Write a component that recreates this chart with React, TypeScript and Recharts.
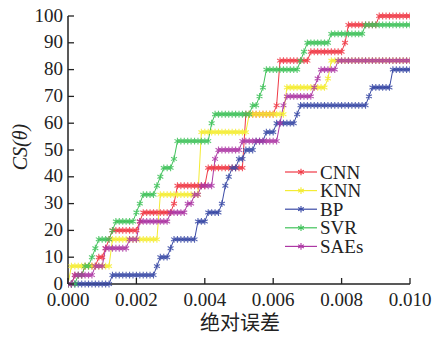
import React from 'react';
import { LineChart, Line, XAxis, YAxis, Legend, Label } from 'recharts';

// Sample grid of absolute error (x axis), evaluated every 0.0001
const gridSteps = 100;
const gridStep = 0.0001;
const xTicks = [0, 0.002, 0.004, 0.006, 0.008, 0.01];
const yTicks = [0, 10, 20, 30, 40, 50, 60, 70, 80, 90, 100];

const seriesNames = ['CNN', 'KNN', 'BP', 'SVR', 'SAEs'];

// Absolute errors of the 30 test samples of each model
const errCNN = [
  0.0002, 0.0005, 0.0009, 0.0011, 0.0012, 0.0013, 0.0021, 0.0022, 0.0031, 0.0032,
  0.0032, 0.0041, 0.0041, 0.0052, 0.0052, 0.0052, 0.0052, 0.0052, 0.0052, 0.0061,
  0.0062, 0.0062, 0.0062, 0.0062, 0.0062, 0.0071, 0.0081, 0.0082, 0.0082, 0.0091,
];
const errKNN = [
  0.0001, 0.0001, 0.0013, 0.0013, 0.0013, 0.0027, 0.0027, 0.0027, 0.0027, 0.0027,
  0.0039, 0.0039, 0.0039, 0.0039, 0.0039, 0.0039, 0.0039, 0.0053, 0.0053, 0.0064,
  0.0064, 0.0064, 0.0076, 0.0077, 0.0077, 0.0104, 0.0108, 0.0112, 0.0118, 0.0125,
];
const errBP = [
  0.0013, 0.0026, 0.0027, 0.003, 0.0031, 0.0038, 0.0038, 0.0041, 0.0045, 0.0046,
  0.0046, 0.0047, 0.0048, 0.005, 0.0052, 0.0055, 0.0058, 0.0061, 0.0067, 0.0068,
  0.0088, 0.0089, 0.0095, 0.0095, 0.0103, 0.0107, 0.0112, 0.0118, 0.0124, 0.0131,
];
const errSVR = [
  0.0003, 0.0005, 0.0007, 0.0008, 0.0009, 0.0013, 0.0014, 0.002, 0.0021, 0.0022,
  0.0026, 0.0027, 0.0028, 0.0031, 0.0032, 0.0032, 0.0042, 0.0042, 0.0043, 0.0054,
  0.0056, 0.0057, 0.0058, 0.0058, 0.0068, 0.0069, 0.007, 0.0077, 0.0087, 0.0106,
];
const errSAEs = [
  0.0002, 0.0008, 0.0011, 0.0011, 0.0018, 0.0021, 0.0021, 0.003, 0.0035, 0.0037,
  0.0039, 0.0043, 0.0043, 0.0043, 0.0044, 0.0051, 0.0062, 0.0062, 0.0063, 0.0063,
  0.0064, 0.0072, 0.0073, 0.0074, 0.0079, 0.0103, 0.0108, 0.0113, 0.0119, 0.0126,
];

const seriesErrors: Record<string, number[]> = {
  CNN: errCNN,
  KNN: errKNN,
  BP: errBP,
  SVR: errSVR,
  SAEs: errSAEs,
};

const colors: Record<string, string> = {
  CNN: '#f03a46',
  KNN: '#f4ec34',
  BP: '#3a4aa6',
  SVR: '#40c25a',
  SAEs: '#ad38a4',
};

// cumulative share (%) of samples whose error is <= x
const cs = (errs: number[], x: number) =>
  (errs.filter((e) => e <= x + 1e-9).length * 100) / errs.length;

const data = Array.from({ length: gridSteps + 1 }, (_, i) => {
  const x = i * gridStep;
  const row: Record<string, number> = { x };
  seriesNames.forEach((n) => {
    row[n] = cs(seriesErrors[n], x);
  });
  return row;
});

const starPath = (cx: number, cy: number, r: number) => {
  const a = r * 0.866;
  const b = r * 0.5;
  return `M${cx},${cy - r}L${cx},${cy + r}M${cx - a},${cy - b}L${cx + a},${cy + b}M${cx - a},${cy + b}L${cx + a},${cy - b}`;
};

const makeDot = (color: string) => (props: any) => {
  const { cx, cy, index } = props;
  if (cx == null || cy == null) return <g key={`d${index}`} />;
  return (
    <path
      key={`d${index}`}
      d={starPath(cx, cy, 3.4)}
      stroke={color}
      strokeWidth={1.1}
      fill="none"
      strokeOpacity={0.85}
    />
  );
};

const AXIS = '#222';
const SERIF = '"Liberation Serif", "Times New Roman", serif';

const XTick = (props: any) => {
  const { x, y, payload } = props;
  return (
    <g>
      <line x1={x} y1={y} x2={x} y2={y - 6} stroke={AXIS} strokeWidth={1.3} />
      <text x={x} y={y + 22} textAnchor="middle" fontFamily={SERIF} fontSize={19} fill={AXIS}>
        {Number(payload.value).toFixed(3)}
      </text>
    </g>
  );
};

const YTick = (props: any) => {
  const { x, y, payload } = props;
  return (
    <g>
      <line x1={x} y1={y} x2={x + 6} y2={y} stroke={AXIS} strokeWidth={1.3} />
      <text x={x - 5} y={y - 1} dy="0.35em" textAnchor="end" fontFamily={SERIF} fontSize={19} fill={AXIS}>
        {payload.value}
      </text>
    </g>
  );
};

const LegendContent = () => (
  <svg width={130} height={100}>
    {seriesNames.map((n, i) => {
      const cy = 12 + i * 18.6;
      return (
        <g key={n}>
          <line x1={5} y1={cy} x2={37} y2={cy} stroke={colors[n]} strokeWidth={1.2} />
          <path d={starPath(21, cy, 3.3)} stroke={colors[n]} strokeWidth={1.1} fill="none" />
          <text x={40} y={cy} dy="0.35em" fontFamily={SERIF} fontSize={19} fill={AXIS}>
            {n}
          </text>
        </g>
      );
    })}
  </svg>
);

export default function App() {
  return (
    <div style={{ position: 'absolute', left: 0, top: 0, width: 436, height: 338, background: '#fff' }}>
      <LineChart width={436} height={338} data={data} margin={{ top: 16, right: 26, bottom: 0, left: 0 }}>
        <XAxis
          dataKey="x"
          type="number"
          domain={[0, 0.01]}
          ticks={xTicks}
          interval={0}
          height={54}
          tickSize={0}
          tickMargin={0}
          tickLine={false}
          axisLine={{ stroke: AXIS, strokeWidth: 1.5 }}
          tick={<XTick />}
          allowDataOverflow
        >
          <Label
            content={() => (
              <text
                x={240}
                y={323}
                dy="0.35em"
                textAnchor="middle"
                fontFamily='"Noto Sans CJK SC", sans-serif'
                fontSize={20}
                fill={AXIS}
              >
                绝对误差
              </text>
            )}
          />
        </XAxis>
        <YAxis
          type="number"
          domain={[0, 100]}
          ticks={yTicks}
          interval={0}
          width={68}
          tickSize={0}
          tickMargin={0}
          tickLine={false}
          axisLine={{ stroke: AXIS, strokeWidth: 1.5 }}
          tick={<YTick />}
        >
          <Label
            content={() => (
              <text
                x={20}
                y={147}
                dy="0.35em"
                textAnchor="middle"
                transform="rotate(-90 20 147)"
                fontFamily={SERIF}
                fontStyle="italic"
                fontSize={20}
                fill={AXIS}
              >
                CS(θ)
              </text>
            )}
          />
        </YAxis>
        {seriesNames.map((n) => (
          <Line
            key={n}
            dataKey={n}
            name={n}
            type="linear"
            stroke={colors[n]}
            strokeWidth={1}
            dot={makeDot(colors[n])}
            activeDot={false}
            isAnimationActive={false}
          />
        ))}
        <Legend
          layout="vertical"
          align="center"
          verticalAlign="middle"
          content={<LegendContent />}
          wrapperStyle={{ position: 'absolute', left: 280, top: 160, width: 130, height: 100 }}
        />
      </LineChart>
    </div>
  );
}
